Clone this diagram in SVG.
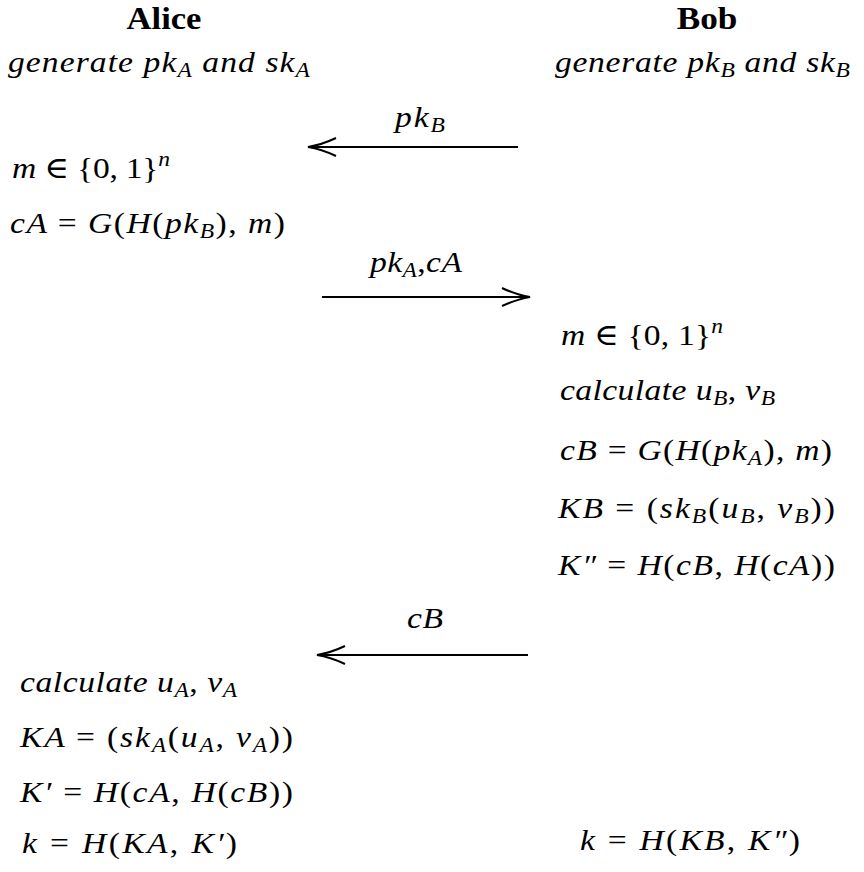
<svg xmlns="http://www.w3.org/2000/svg" width="864" height="872" viewBox="0 0 864 872">
<defs>
<style>
.t{font-family:"Liberation Serif","DejaVu Serif",serif;font-size:30px;font-style:italic;fill:#000}
.u{font-style:normal}
.s{font-size:21px}
.h{font-family:"Liberation Serif","DejaVu Serif",serif;font-size:32px;font-weight:bold;fill:#000}
.ln{stroke:#000;stroke-width:2;fill:none}
</style>
<marker id="ah" markerUnits="userSpaceOnUse" markerWidth="34" markerHeight="22" refX="31" refY="11" orient="auto">
<path d="M3,2 Q18,9 31,11 Q18,13 3,20" fill="none" stroke="#000" stroke-width="2"/>
</marker>
</defs>
<rect width="864" height="872" fill="#fff"/>
<g id="alice"><text class="h" transform="translate(164 28.5) scale(1.08 1)" text-anchor="middle">Alice</text></g>
<g id="bob"><text class="h" transform="translate(707 28.5) scale(1.1 1)" text-anchor="middle">Bob</text></g>
<g id="alice-gen"><text class="t" transform="translate(8 72) scale(1.12 1)" textLength="269.6">generate pk<tspan class="s" dy="5">A</tspan><tspan dy="-5"> and sk</tspan><tspan class="s" dy="5">A</tspan></text></g>
<g id="bob-gen"><text class="t" transform="translate(555 72) scale(1.12 1)" textLength="263.4">generate pk<tspan class="s" dy="5">B</tspan><tspan dy="-5"> and sk</tspan><tspan class="s" dy="5">B</tspan></text></g>
<g id="alice-m"><text class="t" transform="translate(12 178) scale(1.12 1)" textLength="141.1">m <tspan class="u">∈ {0, 1}</tspan><tspan class="s" dy="-12">n</tspan></text></g>
<g id="alice-ca"><text class="t" transform="translate(10 233) scale(1.12 1)" textLength="245.5">cA <tspan class="u">=</tspan> G<tspan class="u">(</tspan>H<tspan class="u">(</tspan>pk<tspan class="s" dy="5">B</tspan><tspan class="u" dy="-5">), </tspan>m<tspan class="u">)</tspan></text></g>
<g id="bob-m"><text class="t" transform="translate(561 345) scale(1.12 1)" textLength="144.6">m <tspan class="u">∈ {0, 1}</tspan><tspan class="s" dy="-12">n</tspan></text></g>
<g id="bob-calc"><text class="t" transform="translate(560 400) scale(1.12 1)" textLength="192">calculate u<tspan class="s" dy="5">B</tspan><tspan class="u" dy="-5">, </tspan>v<tspan class="s" dy="5">B</tspan></text></g>
<g id="bob-cb"><text class="t" transform="translate(560 460) scale(1.12 1)" textLength="242.9">cB <tspan class="u">=</tspan> G<tspan class="u">(</tspan>H<tspan class="u">(</tspan>pk<tspan class="s" dy="5">A</tspan><tspan class="u" dy="-5">), </tspan>m<tspan class="u">)</tspan></text></g>
<g id="bob-kb"><text class="t" transform="translate(558 518) scale(1.12 1)" textLength="247.3">KB <tspan class="u">= (</tspan>sk<tspan class="s" dy="5">B</tspan><tspan class="u" dy="-5">(</tspan>u<tspan class="s" dy="5">B</tspan><tspan class="u" dy="-5">, </tspan>v<tspan class="s" dy="5">B</tspan><tspan class="u" dy="-5">))</tspan></text></g>
<g id="bob-k2"><text class="t" transform="translate(558 575) scale(1.12 1)" textLength="247.3">K″ <tspan class="u">=</tspan> H<tspan class="u">(</tspan>cB<tspan class="u">, </tspan>H<tspan class="u">(</tspan>cA<tspan class="u">))</tspan></text></g>
<g id="alice-calc"><text class="t" transform="translate(20 692) scale(1.12 1)" textLength="193.8">calculate u<tspan class="s" dy="5">A</tspan><tspan class="u" dy="-5">, </tspan>v<tspan class="s" dy="5">A</tspan></text></g>
<g id="alice-ka"><text class="t" transform="translate(20 747) scale(1.12 1)" textLength="243.8">KA <tspan class="u">= (</tspan>sk<tspan class="s" dy="5">A</tspan><tspan class="u" dy="-5">(</tspan>u<tspan class="s" dy="5">A</tspan><tspan class="u" dy="-5">, </tspan>v<tspan class="s" dy="5">A</tspan><tspan class="u" dy="-5">))</tspan></text></g>
<g id="alice-k1"><text class="t" transform="translate(20 802) scale(1.12 1)" textLength="243.8">K′ <tspan class="u">=</tspan> H<tspan class="u">(</tspan>cA<tspan class="u">, </tspan>H<tspan class="u">(</tspan>cB<tspan class="u">))</tspan></text></g>
<g id="alice-k"><text class="t" transform="translate(22 853) scale(1.12 1)" textLength="192">k <tspan class="u">=</tspan> H<tspan class="u">(</tspan>KA<tspan class="u">, </tspan>K′<tspan class="u">)</tspan></text></g>
<g id="bob-k"><text class="t" transform="translate(580 850) scale(1.12 1)" textLength="196.4">k <tspan class="u">=</tspan> H<tspan class="u">(</tspan>KB<tspan class="u">, </tspan>K″<tspan class="u">)</tspan></text></g>
<g id="connectors">
<line class="ln" x1="518" y1="147" x2="308" y2="147" marker-end="url(#ah)"/>
<text class="t" transform="translate(395 127) scale(1.12 1)" textLength="44.6">pk<tspan class="s" dy="5">B</tspan></text>
<line class="ln" x1="322" y1="297" x2="530" y2="297" marker-end="url(#ah)"/>
<text class="t" transform="translate(370 272) scale(1.12 1)" textLength="82.1">pk<tspan class="s" dy="5">A</tspan><tspan class="u" dy="-5">,</tspan>cA</text>
<line class="ln" x1="528" y1="655" x2="317" y2="655" marker-end="url(#ah)"/>
<text class="t" transform="translate(407 628) scale(1.12 1)" textLength="32.1">cB</text>
</g>
</svg>
